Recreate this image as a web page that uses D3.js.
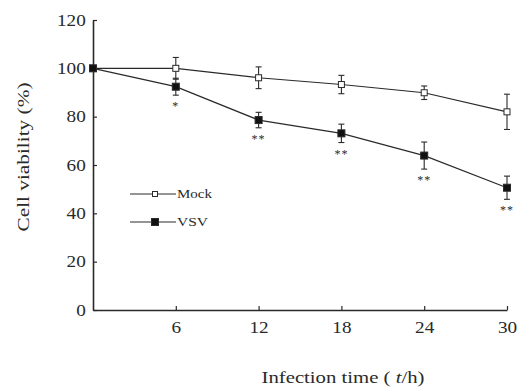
<!DOCTYPE html>
<html><head><meta charset="utf-8">
<script src="https://cdn.jsdelivr.net/npm/d3@7"></script>
<style>body{margin:0;background:#fff}svg{display:block}</style>
</head><body>
<script>
const times = [0, 6, 12, 18, 24, 30];
const mockValues = [100, 100, 96.1, 93.3, 89.9, 82.0];
const mockErrors = [0, 4.5, 4.5, 3.8, 2.8, 7.3];
const vsvValues = [100, 92.4, 78.6, 73.1, 63.9, 50.6];
const vsvErrors = [0, 3.5, 3.2, 3.8, 5.6, 4.8];
const vsvStars = ["", "*", "**", "**", "**", "**"];
const xTicks = [6, 12, 18, 24, 30];
const yTicks = [0, 20, 40, 60, 80, 100, 120];

const W = 521, H = 391;
const ink = "#2a2a2a";
const svg = d3.select("body").append("svg").attr("width", W).attr("height", H);
const x = d3.scaleLinear().domain([0, 30]).range([93, 507]);
const y = d3.scaleLinear().domain([0, 120]).range([310, 20]);
const font = "'Liberation Serif', 'Times New Roman', serif";

const gx = svg.append("g").attr("transform", `translate(0,${y(0)})`)
  .call(d3.axisBottom(x).tickValues(xTicks).tickSizeInner(-4).tickSizeOuter(0).tickPadding(12));
const gy = svg.append("g").attr("transform", `translate(${x(0)},0)`)
  .call(d3.axisLeft(y).tickValues(yTicks).tickSizeInner(-4).tickSizeOuter(0).tickPadding(6));
[gx, gy].forEach(g => {
  g.select(".domain").attr("stroke", ink).attr("stroke-width", 1.6);
  g.selectAll(".tick line").attr("stroke", ink).attr("stroke-width", 1.2);
  g.selectAll(".tick text").attr("fill", ink).style("font-family", font).style("font-size", "16px")
    .attr("transform", "scale(1.2,1)");
});

svg.append("text").attr("x", 343).attr("y", 383).attr("text-anchor", "middle")
  .attr("textLength", 163).attr("lengthAdjust", "spacingAndGlyphs")
  .attr("fill", ink).style("font-family", font).style("font-size", "16px")
  .html("Infection time ( <tspan font-style='italic'>t</tspan>/h)");
svg.append("text").attr("transform", "translate(29,157) rotate(-90)").attr("text-anchor", "middle")
  .attr("textLength", 149).attr("lengthAdjust", "spacingAndGlyphs")
  .attr("fill", ink).style("font-family", font).style("font-size", "16px")
  .text("Cell viability (%)");

const line = d3.line().x((d, i) => x(times[i])).y(d => y(d));

function drawSeries(vals, errs, filled, size) {
  const g = svg.append("g");
  g.append("path").datum(vals).attr("d", line).attr("fill", "none").attr("stroke", ink).attr("stroke-width", 1.2);
  vals.forEach((v, i) => {
    if (errs[i] > 0) {
      const cx = x(times[i]);
      g.append("line").attr("x1", cx).attr("x2", cx).attr("y1", y(v + errs[i])).attr("y2", y(v - errs[i])).attr("stroke", ink).attr("stroke-width", 1.1);
      [v + errs[i], v - errs[i]].forEach(e => g.append("line").attr("x1", cx - 3).attr("x2", cx + 3).attr("y1", y(e)).attr("y2", y(e)).attr("stroke", ink).attr("stroke-width", 1.1));
    }
  });
  vals.forEach((v, i) => {
    g.append("rect").attr("x", x(times[i]) - size / 2).attr("y", y(v) - size / 2).attr("width", size).attr("height", size)
      .attr("fill", filled ? "#111" : "#fff").attr("stroke", ink).attr("stroke-width", 1);
  });
  return g;
}
drawSeries(mockValues, mockErrors, false, 6);
drawSeries(vsvValues, vsvErrors, true, 7);

vsvStars.forEach((s, i) => {
  if (!s) return;
  svg.append("text").attr("x", x(times[i])).attr("y", y(vsvValues[i] - vsvErrors[i]) + 15)
    .attr("text-anchor", "middle").attr("fill", ink).style("font-family", font).style("font-size", "12px")
    .style("letter-spacing", "1px").text(s);
});

const legend = [{name: "Mock", filled: false, size: 5, len: 35}, {name: "VSV", filled: true, size: 7, len: 31}];
legend.forEach((d, i) => {
  const ly = 194 + i * 28;
  svg.append("line").attr("x1", 130).attr("x2", 176).attr("y1", ly).attr("y2", ly).attr("stroke", ink).attr("stroke-width", 1);
  svg.append("rect").attr("x", 155 - d.size / 2).attr("y", ly - d.size / 2).attr("width", d.size).attr("height", d.size)
    .attr("fill", d.filled ? "#111" : "#fff").attr("stroke", ink).attr("stroke-width", 1);
  svg.append("text").attr("x", 177).attr("y", ly + 4).attr("textLength", d.len).attr("lengthAdjust", "spacingAndGlyphs")
    .attr("fill", ink).style("font-family", font).style("font-size", "12px").text(d.name);
});
</script>
</body></html>
